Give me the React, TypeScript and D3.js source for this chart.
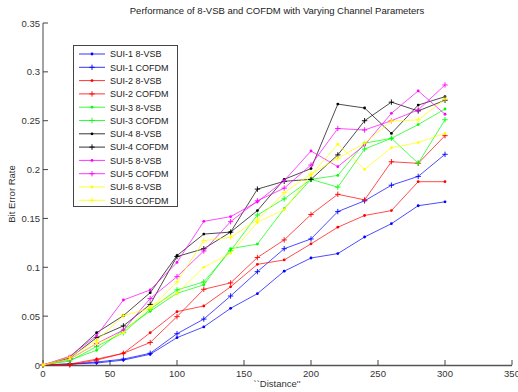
import React from "react";
import * as d3 from "d3";

const distances = [0, 20, 40, 60, 80, 100, 120, 140, 160, 180, 200, 220, 240, 260, 280, 300];

const sui1Vsb = [0, 0.001, 0.002, 0.005, 0.011, 0.028, 0.039, 0.058, 0.073, 0.096, 0.1095, 0.114, 0.131, 0.1446, 0.163, 0.167];
const sui1Cofdm = [0, 0.001, 0.003, 0.006, 0.012, 0.032, 0.047, 0.0706, 0.0955, 0.119, 0.129, 0.157, 0.168, 0.184, 0.193, 0.2156];
const sui2Vsb = [0, 0.001, 0.006, 0.012, 0.033, 0.0546, 0.0604, 0.08, 0.103, 0.1075, 0.124, 0.141, 0.153, 0.158, 0.1876, 0.1876];
const sui2Cofdm = [0, 0.0, 0.005, 0.012, 0.023, 0.0495, 0.0775, 0.084, 0.11, 0.128, 0.154, 0.1747, 0.169, 0.208, 0.2064, 0.2347];
const sui3Vsb = [0, 0.005, 0.015, 0.036, 0.055, 0.0734, 0.082, 0.119, 0.1238, 0.16, 0.19, 0.194, 0.227, 0.232, 0.246, 0.262];
const sui3Cofdm = [0, 0.004, 0.019, 0.033, 0.057, 0.0768, 0.085, 0.117, 0.1535, 0.17, 0.19, 0.182, 0.221, 0.232, 0.2065, 0.251];
const sui4Vsb = [0, 0.008, 0.033, 0.0505, 0.074, 0.112, 0.134, 0.136, 0.158, 0.19, 0.201, 0.267, 0.263, 0.237, 0.266, 0.2746];
const sui4Cofdm = [0, 0.007, 0.028, 0.04, 0.062, 0.111, 0.119, 0.136, 0.18, 0.188, 0.19, 0.215, 0.25, 0.269, 0.26, 0.271];
const sui5Vsb = [0, 0.009, 0.03, 0.0665, 0.0768, 0.105, 0.147, 0.1518, 0.167, 0.1886, 0.219, 0.203, 0.225, 0.2576, 0.2805, 0.2566];
const sui5Cofdm = [0, 0.006, 0.022, 0.0358, 0.068, 0.0904, 0.1167, 0.1467, 0.168, 0.181, 0.2047, 0.242, 0.2405, 0.25, 0.261, 0.2866];
const sui6Vsb = [0, 0.006, 0.022, 0.033, 0.06, 0.0734, 0.1, 0.1143, 0.146, 0.159, 0.1945, 0.2259, 0.2003, 0.2224, 0.2276, 0.237];
const sui6Cofdm = [0, 0.008, 0.025, 0.0505, 0.058, 0.085, 0.1273, 0.1307, 0.1484, 0.1764, 0.1955, 0.2115, 0.227, 0.2497, 0.2508, 0.2723];

const seriesNames = [
  "SUI-1 8-VSB", "SUI-1 COFDM", "SUI-2 8-VSB", "SUI-2 COFDM", "SUI-3 8-VSB", "SUI-3 COFDM",
  "SUI-4 8-VSB", "SUI-4 COFDM", "SUI-5 8-VSB", "SUI-5 COFDM", "SUI-6 8-VSB", "SUI-6 COFDM",
];
const seriesValues = [sui1Vsb, sui1Cofdm, sui2Vsb, sui2Cofdm, sui3Vsb, sui3Cofdm, sui4Vsb, sui4Cofdm, sui5Vsb, sui5Cofdm, sui6Vsb, sui6Cofdm];
const seriesColors = ["#0000ff", "#0000ff", "#ff0000", "#ff0000", "#00ff00", "#00ff00", "#000000", "#000000", "#ff00ff", "#ff00ff", "#ffff00", "#ffff00"];
const seriesMarkers = ["dot", "plus", "dot", "plus", "dot", "plus", "dot", "plus", "dot", "plus", "dot", "plus"];

const xTicks = [0, 50, 100, 150, 200, 250, 300, 350];
const yTicks = [0, 0.05, 0.1, 0.15, 0.2, 0.25, 0.3, 0.35];
const yTickLabels = ["0", "0.05", "0.1", "0.15", "0.2", "0.25", "0.3", "0.35"];

const title = "Performance of 8-VSB and COFDM with Varying Channel Parameters";
const xLabel = "``Distance''";
const yLabel = "Bit Error Rate";

const W = 518;
const H = 392;
const FONT = "'Liberation Sans', Arial, Helvetica, sans-serif";

function Marker({ kind, x, y, color }: { kind: string; x: number; y: number; color: string }) {
  if (kind === "dot") return <circle cx={x} cy={y} r={1.4} fill={color} />;
  const s = 2.7;
  return (
    <g stroke={color} strokeWidth={0.9}>
      <line x1={x - s} x2={x + s} y1={y} y2={y} />
      <line x1={x} x2={x} y1={y - s} y2={y + s} />
    </g>
  );
}

export default function App() {
  const x = d3.scaleLinear().domain([0, 350]).range([43, 512]);
  const y = d3.scaleLinear().domain([0, 0.35]).range([365, 23]);
  const line = d3
    .line<number>()
    .x((_, i) => x(distances[i]))
    .y((d) => y(d));

  const legX = 73.5;
  const legY = 45.5;
  const legW = 104;
  const legH = 161;
  const rowH = 13.3;

  return (
    <svg width={W} height={H} style={{ position: "absolute", left: 0, top: 0, background: "#fff" }} fontFamily={FONT}>
      <rect x={0} y={0} width={W} height={H} fill="#fff" />
      <text x={277} y={14} fontSize={9.5} textAnchor="middle" fill="#222">{title}</text>

      {/* axes */}
      <line x1={43} x2={43} y1={y(0.35)} y2={y(0)} stroke="#444" strokeWidth={1} />
      <line x1={43} x2={x(350)} y1={y(0) + 0.5} y2={y(0) + 0.5} stroke="#555" strokeWidth={1.5} />
      {xTicks.map((t) => (
        <g key={"xt" + t}>
          <line x1={x(t)} x2={x(t)} y1={y(0)} y2={y(0) - 5} stroke="#444" strokeWidth={1} />
          <text x={x(t)} y={y(0) + 12} fontSize={9.5} textAnchor="middle" fill="#333">{t}</text>
        </g>
      ))}
      {yTicks.map((t, i) => (
        <g key={"yt" + t}>
          <line x1={43} x2={48} y1={y(t)} y2={y(t)} stroke="#444" strokeWidth={1} />
          <text x={40} y={y(t) + 3.5} fontSize={9.5} textAnchor="end" fill="#333">{yTickLabels[i]}</text>
        </g>
      ))}
      <text x={277} y={387} fontSize={9.5} textAnchor="middle" fill="#333">{xLabel}</text>
      <text transform={`translate(15,194) rotate(-90)`} fontSize={9.5} textAnchor="middle" fill="#333">{yLabel}</text>

      {/* series */}
      {seriesValues.map((vals, si) => (
        <g key={"s" + si}>
          <path d={line(vals) || ""} fill="none" stroke={seriesColors[si]} strokeWidth={0.7} />
          {vals.map((v, i) => (
            <Marker key={i} kind={seriesMarkers[si]} x={x(distances[i])} y={y(v)} color={seriesColors[si]} />
          ))}
        </g>
      ))}

      {/* legend */}
      <rect x={legX} y={legY} width={legW} height={legH} fill="#fff" stroke="#444" strokeWidth={1} />
      {seriesNames.map((name, i) => {
        const ry = 54 + i * rowH;
        return (
          <g key={"l" + i}>
            <line x1={79} x2={105} y1={ry} y2={ry} stroke={seriesColors[i]} strokeWidth={0.8} />
            <Marker kind={seriesMarkers[i]} x={92} y={ry} color={seriesColors[i]} />
            <text x={110} y={ry + 3.3} fontSize={9} fill="#222">{name}</text>
          </g>
        );
      })}
    </svg>
  );
}
